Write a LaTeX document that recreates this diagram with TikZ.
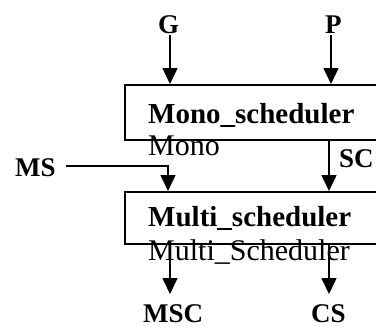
\documentclass[tikz,border=0pt]{standalone}
\usepackage{fontspec}
\setmainfont{Liberation Serif}
\usetikzlibrary{arrows.meta}
\begin{document}
\begin{tikzpicture}[x=1pt,y=-1pt,
  lbl/.style={inner sep=0pt,anchor=base west,font=\fontsize{27}{27}\selectfont\bfseries},
  ttl/.style={inner sep=0pt,anchor=base west,font=\fontsize{29}{29}\selectfont\bfseries},
  sub/.style={inner sep=0pt,anchor=base west,font=\fontsize{30}{30}\selectfont},
  blk/.style={draw,line width=2pt,inner sep=0pt,anchor=north west,minimum width=270pt},
  arr/.style={line width=1.6pt,-{Triangle[width=15pt,length=16pt]}}]
\useasboundingbox (0,0) rectangle (376,327);
\clip (0,0) rectangle (376,327);
% boxes
\node[blk,minimum height=55pt] (mono) at (124,84) {};
\node[blk,minimum height=52pt] (multi) at (124,191) {};
% texts
\node[ttl] (monot) at (148,123) {Mono\_scheduler};
\node[sub] (monos) at (148,155) {Mono};
\node[ttl] (multit) at (148,226) {Multi\_scheduler};
\node[sub] (multis) at (148,260) {Multi\_Scheduler};
% labels
\node[lbl] (G) at (158,33) {G};
\node[lbl] (P) at (325,33) {P};
\node[lbl] (MS) at (15,176) {MS};
\node[lbl] (SC) at (339,167) {SC};
\node[lbl] (MSC) at (143,322) {MSC};
\node[lbl] (CS) at (311,322) {CS};
% coordinates
\coordinate (gs) at (170,35);
\coordinate (ps) at (331,35);
\coordinate (gin) at (170,84);
\coordinate (pin) at (331,84);
\coordinate (scs) at (329,139);
\coordinate (scin) at (329,191);
\coordinate (mss) at (66,166);
\coordinate (msin) at (168,191);
\coordinate (mscs) at (170,243);
\coordinate (msce) at (170,294);
\coordinate (css) at (329,243);
\coordinate (cse) at (329,294);
% connectors
\draw[arr] (gs) -- (gin);
\draw[arr] (ps) -- (pin);
\draw[arr] (scs) -- (scin);
\draw[arr] (mss) -| (msin);
\draw[arr] (mscs) -- (msce);
\draw[arr] (css) -- (cse);
\end{tikzpicture}
\end{document}
